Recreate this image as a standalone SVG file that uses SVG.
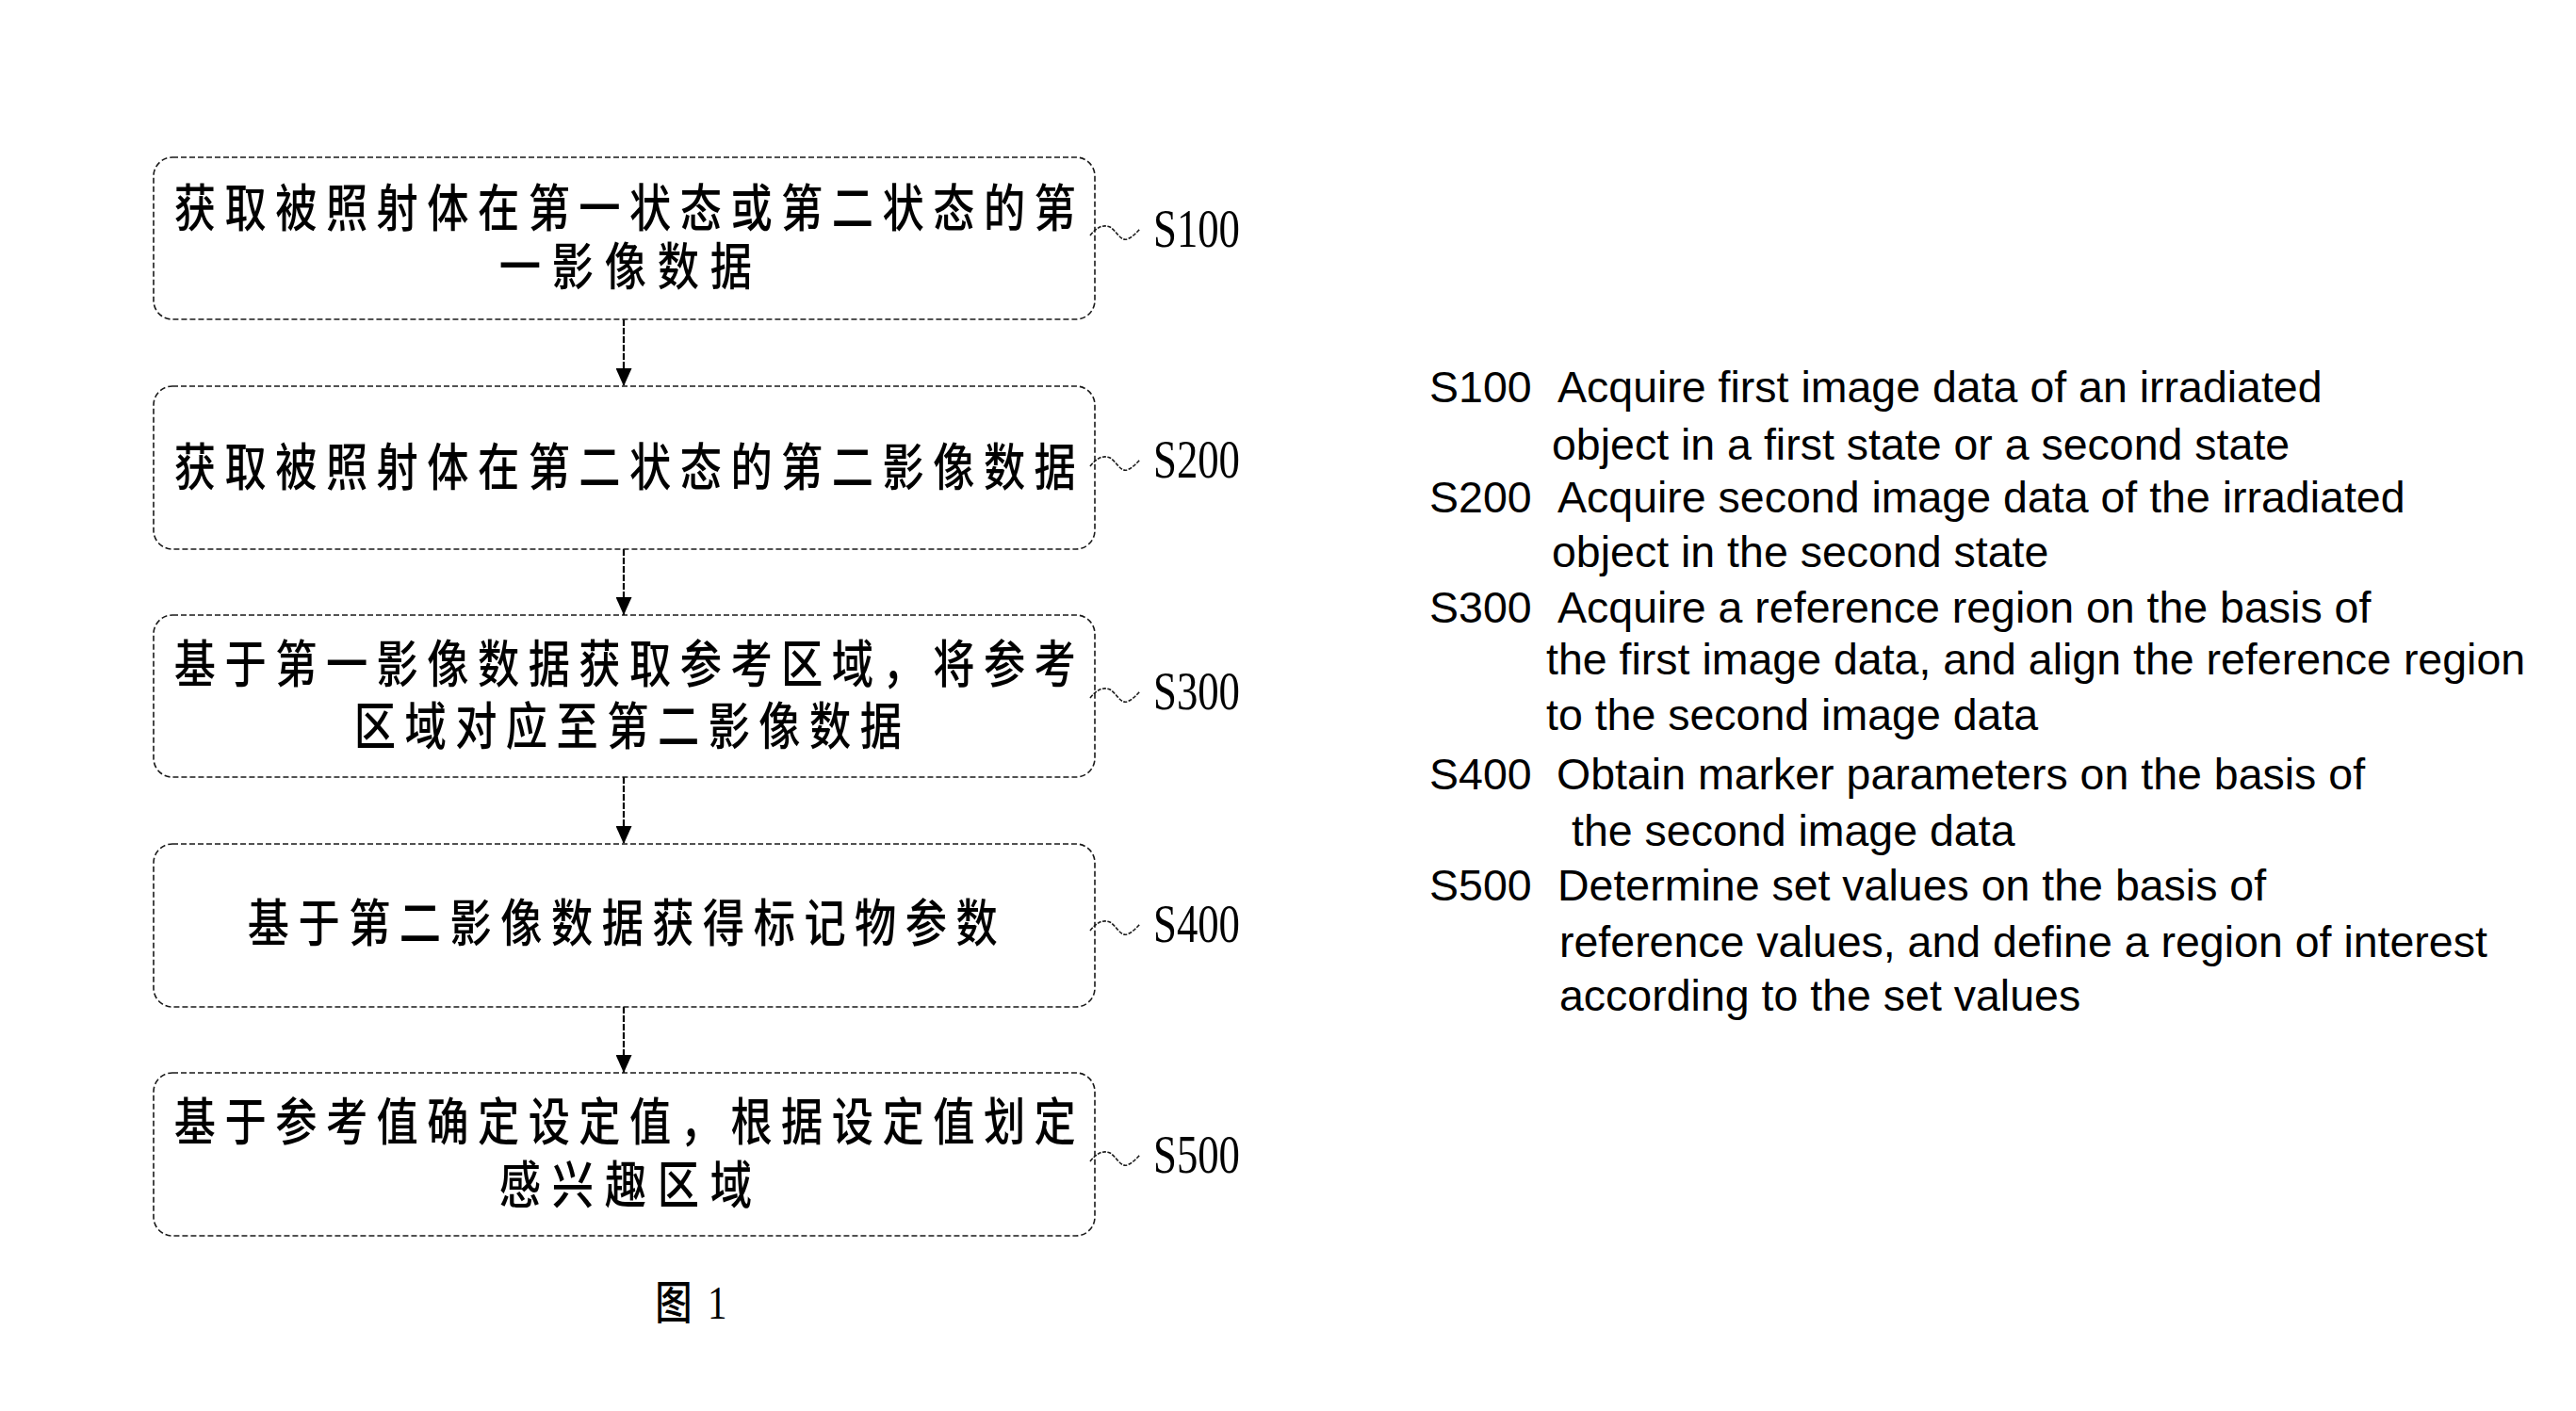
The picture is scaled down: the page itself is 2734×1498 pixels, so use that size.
<svg xmlns="http://www.w3.org/2000/svg" width="2734" height="1498" viewBox="0 0 2734 1498">
<style>
.box{fill:#fff;stroke:#1a1a1a;stroke-width:1.6;stroke-dasharray:6 3}
.cn{font-family:"Noto Sans CJK SC","Noto Sans CJK JP",sans-serif;font-size:54px;font-weight:500;fill:#000;letter-spacing:11.5px}
.cn5{letter-spacing:14.3px}
.lbl{font-family:"Liberation Serif","Times New Roman",serif;font-size:56px;fill:#000}
.sq{fill:none;stroke:#1a1a1a;stroke-width:1.6;stroke-dasharray:4 1.5}
.en{font-family:"Liberation Sans",Arial,sans-serif;font-size:46.5px;fill:#000}
.conn{stroke:#000;stroke-width:2.2;stroke-dasharray:7 2;fill:none}
</style>
<defs>
<marker id="ah" markerUnits="userSpaceOnUse" markerWidth="19" markerHeight="17" viewBox="0 0 19 17" refX="19" refY="8.5" orient="auto">
<path d="M0,0 L19,8.5 L0,17 z" fill="#000"/>
</marker>
</defs>
<rect width="2734" height="1498" fill="#fff"/>

<g id="connectors">
<line class="conn" x1="662" y1="339" x2="662" y2="410" marker-end="url(#ah)"/>
<line class="conn" x1="662" y1="583" x2="662" y2="653" marker-end="url(#ah)"/>
<line class="conn" x1="662" y1="825" x2="662" y2="896" marker-end="url(#ah)"/>
<line class="conn" x1="662" y1="1069" x2="662" y2="1139" marker-end="url(#ah)"/>
</g>

<g id="S100">
<rect class="box" x="163" y="167" width="999" height="172" rx="20"/>
<text class="cn" transform="scale(0.82 1)" x="225.4" y="241">获取被照射体在第一状态或第二状态的第</text>
<text class="cn cn5" transform="scale(0.82 1)" x="646.1" y="303">一影像数据</text>
<path class="sq" d="M1157,250 C1164,241 1171,238 1178,241 C1185,245 1189,256 1196,254 C1202,252 1206,247 1210,243"/>
<text class="lbl" x="1224" y="262" textLength="92" lengthAdjust="spacingAndGlyphs">S100</text>
</g>

<g id="S200">
<rect class="box" x="163" y="410" width="999" height="173" rx="20"/>
<text class="cn" transform="scale(0.82 1)" x="225.4" y="516">获取被照射体在第二状态的第二影像数据</text>
<path class="sq" d="M1157,495 C1164,486 1171,483 1178,486 C1185,490 1189,501 1196,499 C1202,497 1206,492 1210,488"/>
<text class="lbl" x="1224" y="507" textLength="92" lengthAdjust="spacingAndGlyphs">S200</text>
</g>

<g id="S300">
<rect class="box" x="163" y="653" width="999" height="172" rx="20"/>
<text class="cn" transform="scale(0.82 1)" x="225.4" y="725">基于第一影像数据获取参考区域，将参考</text>
<text class="cn" transform="scale(0.82 1)" x="458.3" y="791">区域对应至第二影像数据</text>
<path class="sq" d="M1157,741 C1164,732 1171,729 1178,732 C1185,736 1189,747 1196,745 C1202,743 1206,738 1210,734"/>
<text class="lbl" x="1224" y="753" textLength="92" lengthAdjust="spacingAndGlyphs">S300</text>
</g>

<g id="S400">
<rect class="box" x="163" y="896" width="999" height="173" rx="20"/>
<text class="cn" transform="scale(0.82 1)" x="320.5" y="1000">基于第二影像数据获得标记物参数</text>
<path class="sq" d="M1157,988 C1164,979 1171,976 1178,979 C1185,983 1189,994 1196,992 C1202,990 1206,985 1210,981"/>
<text class="lbl" x="1224" y="1000" textLength="92" lengthAdjust="spacingAndGlyphs">S400</text>
</g>

<g id="S500">
<rect class="box" x="163" y="1139" width="999" height="173" rx="20"/>
<text class="cn" transform="scale(0.82 1)" x="225.4" y="1211">基于参考值确定设定值，根据设定值划定</text>
<text class="cn cn5" transform="scale(0.82 1)" x="646.1" y="1278">感兴趣区域</text>
<path class="sq" d="M1157,1233 C1164,1224 1171,1221 1178,1224 C1185,1228 1189,1239 1196,1237 C1202,1235 1206,1230 1210,1226"/>
<text class="lbl" x="1224" y="1245" textLength="92" lengthAdjust="spacingAndGlyphs">S500</text>
</g>

<g id="caption">
<text transform="scale(0.82 1)" y="1400" style="font-size:48px;fill:#000"><tspan x="848" style="font-family:'Noto Sans CJK SC',sans-serif;font-weight:500">图</tspan><tspan x="916" style="font-family:'Liberation Serif',serif;font-size:50px">1</tspan></text>
</g>

<g id="legend">
<text class="en" y="427"><tspan x="1517">S100</tspan><tspan x="1653">Acquire first image data of an irradiated</tspan></text>
<text class="en" x="1647" y="488">object in a first state or a second state</text>
<text class="en" y="544"><tspan x="1517">S200</tspan><tspan x="1653">Acquire second image data of the irradiated</tspan></text>
<text class="en" x="1647" y="602">object in the second state</text>
<text class="en" y="661"><tspan x="1517">S300</tspan><tspan x="1653">Acquire a reference region on the basis of</tspan></text>
<text class="en" x="1641" y="716">the first image data, and align the reference region</text>
<text class="en" x="1641" y="775">to the second image data</text>
<text class="en" y="838"><tspan x="1517">S400</tspan><tspan x="1652">Obtain marker parameters on the basis of</tspan></text>
<text class="en" x="1668" y="898">the second image data</text>
<text class="en" y="956"><tspan x="1517">S500</tspan><tspan x="1653">Determine set values on the basis of</tspan></text>
<text class="en" x="1655" y="1016">reference values, and define a region of interest</text>
<text class="en" x="1655" y="1073">according to the set values</text>
</g>
</svg>
